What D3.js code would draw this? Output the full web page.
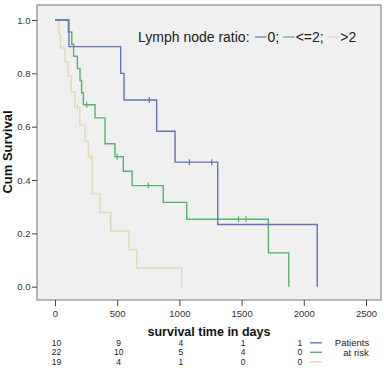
<!DOCTYPE html>
<html>
<head>
<meta charset="utf-8">
<script src="https://cdn.jsdelivr.net/npm/d3@7"></script>
<style>
  body { margin: 0; background: #fff; }
  svg { display: block; font-family: Arial, "Liberation Sans", sans-serif; }
</style>
</head>
<body>
<div id="chart-area"></div>
<script>
/*
*    km curve - lymph node ratio
*/
// step points [days, cum survival]
var group0 = [[0, 1], [112, 0.9], [528, 0.8], [555, 0.7], [817, 0.583], [965, 0.467], [1308, 0.233], [2108, 0]]
var group0Censor = [[758, 0.7], [1080, 0.467], [1260, 0.467]]

var group2 = [[0, 1], [107, 0.955], [135, 0.909], [150, 0.864], [180, 0.818], [201, 0.773], [214, 0.727], [228, 0.682],
  [322, 0.633], [402, 0.536], [482, 0.487], [549, 0.433], [620, 0.379], [870, 0.316], [1059, 0.253], [1715, 0.127], [1879, 0]]
var group2Censor = [[255, 0.682], [500, 0.487], [750, 0.379], [1475, 0.253], [1535, 0.253]]

var group3 = [[0, 1], [30, 0.947], [45, 0.895], [80, 0.842], [105, 0.789], [130, 0.73], [160, 0.672], [200, 0.606],
  [243, 0.544], [268, 0.487], [300, 0.348], [362, 0.278], [448, 0.209], [595, 0.139], [657, 0.07], [1018, 0]]
var group3Censor = [[180, 0.672], [287, 0.487]]

var groupNames = ["0;", "<=2;", ">2"]
var colors = ["#6473b5", "#55b46c", "#e0dab6"]

var xTicks = [0, 500, 1000, 1500, 2000, 2500]
var yTicks = [0, 0.2, 0.4, 0.6, 0.8, 1.0]

var riskTimes = [0, 500, 1000, 1500, 2000]
var risk0 = [10, 9, 4, 1, 1]
var risk2 = [22, 10, 5, 4, 0]
var risk3 = [19, 4, 1, 0, 0]

var width = 384
var height = 374
var frame = {left: 37, top: 5, right: 381, bottom: 300}

var svg = d3.select("#chart-area")
  .append("svg")
  .attr("width", width)
  .attr("height", height)

var x = d3.scaleLinear().domain([0, 2500]).range([55, 366])
var y = d3.scaleLinear().domain([0, 1]).range([286.7, 20])

// plot panel
svg.append("rect")
  .attr("x", frame.left)
  .attr("y", frame.top)
  .attr("width", frame.right - frame.left)
  .attr("height", frame.bottom - frame.top)
  .attr("fill", "#f0f0f0")
  .attr("stroke", "#8a8a8a")
  .attr("stroke-width", 1.2)

var leftAxis = d3.axisLeft(y).tickValues(yTicks).tickSize(5).tickPadding(1.5).tickFormat(d3.format(".1f"))
svg.append("g")
  .attr("class", "left axis")
  .attr("transform", `translate(${frame.left}, 0)`)
  .call(leftAxis)

var bottomAxis = d3.axisBottom(x).tickValues(xTicks).tickSize(6).tickPadding(4).tickFormat(d3.format("d"))
svg.append("g")
  .attr("class", "bottom axis")
  .attr("transform", `translate(0, ${frame.bottom})`)
  .call(bottomAxis)

svg.selectAll(".axis .domain").remove()
svg.selectAll(".axis line").attr("stroke", "#444")
svg.selectAll(".axis text").attr("font-size", "9.5px").attr("fill", "#333").attr("font-family", "Arial, 'Liberation Sans', sans-serif")

// curves
var line = d3.line()
  .x(d => x(d[0]))
  .y(d => y(d[1]))
  .curve(d3.curveStepAfter)

var curves = [group3, group2, group0]
var censors = [group3Censor, group2Censor, group0Censor]
var order = [2, 1, 0]

curves.forEach((c, i) => {
  var col = colors[order[i]]
  svg.append("path")
    .attr("d", line(c))
    .attr("fill", "none")
    .attr("stroke", col)
    .attr("stroke-width", 1.4)
  svg.append("g").selectAll("line")
    .data(censors[i])
    .enter()
    .append("line")
    .attr("x1", d => x(d[0]))
    .attr("x2", d => x(d[0]))
    .attr("y1", d => y(d[1]) - 3)
    .attr("y2", d => y(d[1]) + 3)
    .attr("stroke", col)
    .attr("stroke-width", 1.2)
})

// legend
svg.append("text")
  .attr("x", 138)
  .attr("y", 42)
  .attr("font-size", "14px")
  .attr("fill", "#222")
  .text("Lymph node ratio:")
var lx = 255
groupNames.forEach((name, i) => {
  svg.append("line")
    .attr("x1", lx)
    .attr("x2", lx + 11.5)
    .attr("y1", 37)
    .attr("y2", 37)
    .attr("stroke", colors[i])
    .attr("stroke-width", 1.2)
  var t = svg.append("text")
    .attr("x", lx + 12.5)
    .attr("y", 42)
    .attr("font-size", "14px")
    .attr("fill", "#222")
    .text(name)
  lx = lx + 12.5 + t.node().getComputedTextLength() + 4
})

// axis titles
svg.append("text")
  .attr("x", 209)
  .attr("y", 336)
  .attr("font-size", "12.5px")
  .attr("font-weight", "bold")
  .attr("text-anchor", "middle")
  .attr("fill", "#111")
  .text("survival time in days")

svg.append("text")
  .attr("x", -152)
  .attr("y", 12)
  .attr("font-size", "13px")
  .attr("font-weight", "bold")
  .attr("text-anchor", "middle")
  .attr("transform", "rotate(-90)")
  .attr("fill", "#111")
  .text("Cum Survival")

// number at risk table
var rows = [risk0, risk2, risk3]
var rowY = [345.8, 355.3, 364.8]
rows.forEach((r, i) => {
  svg.append("g").selectAll("text")
    .data(r)
    .enter()
    .append("text")
    .attr("x", (d, j) => j == r.length - 1 ? x(riskTimes[j]) - 4 : x(riskTimes[j]) + 1.5)
    .attr("y", rowY[i])
    .attr("font-size", "8.5px")
    .attr("text-anchor", "middle")
    .attr("fill", "#222")
    .text(d => d)
  svg.append("line")
    .attr("x1", 310)
    .attr("x2", 322)
    .attr("y1", rowY[i] - 3)
    .attr("y2", rowY[i] - 3)
    .attr("stroke", colors[i])
    .attr("stroke-width", 1.4)
})
svg.append("text")
  .attr("x", 352)
  .attr("y", rowY[0])
  .attr("font-size", "9.5px")
  .attr("text-anchor", "middle")
  .attr("fill", "#222")
  .text("Patients")
svg.append("text")
  .attr("x", 356)
  .attr("y", rowY[1] + 0.6)
  .attr("font-size", "9.5px")
  .attr("text-anchor", "middle")
  .attr("fill", "#222")
  .text("at risk")
</script>
</body>
</html>
